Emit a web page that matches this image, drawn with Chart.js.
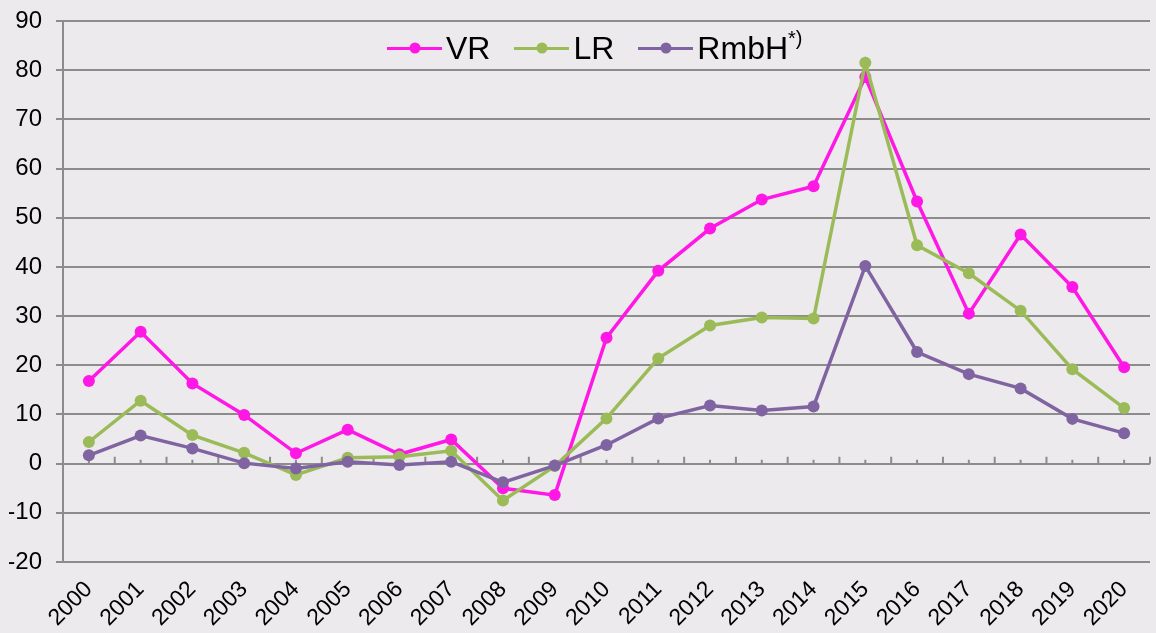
<!DOCTYPE html>
<html>
<head>
<meta charset="utf-8">
<script src="https://cdn.jsdelivr.net/npm/chart.js@4"></script>
<style>
  html, body { margin: 0; padding: 0; background: #ECEAEC; }
  #wrap { position: relative; width: 1156px; height: 633px; }
  #legend {
    position: absolute; top: 32px; left: 387px;
    display: flex; align-items: center;
    font-family: 'Liberation Sans', Arial, sans-serif;
    font-size: 32px; line-height: 32px; color: #000;
  }
  .item { display: flex; align-items: center; margin-right: 24px; }
  .sym { position: relative; width: 55px; height: 3px; margin-right: 4px; }
  .sym i {
    position: absolute; left: 50%; top: 50%; width: 11px; height: 11px;
    border-radius: 50%; transform: translate(-50%, -50%); background: inherit;
  }
  .sup { font-size: 20px; line-height: 0; position: relative; top: -14px; }
</style>
</head>
<body>
<div id="wrap">
  <canvas id="chart" width="1156" height="633"></canvas>
  <div id="legend"></div>
</div>
<script>
/* ================= DATA ================= */
const years = ['2000','2001','2002','2003','2004','2005','2006','2007','2008','2009','2010',
               '2011','2012','2013','2014','2015','2016','2017','2018','2019','2020'];
const vr   = [16.8, 26.8, 16.3, 9.9, 2.1, 6.9, 1.9, 4.9, -5.0, -6.4, 25.6,
              39.2, 47.8, 53.7, 56.4, 78.6, 53.3, 30.5, 46.6, 35.9, 19.6];
const lr   = [4.4, 12.8, 5.8, 2.2, -2.3, 1.2, 1.4, 2.6, -7.5, -0.5, 9.2,
              21.4, 28.1, 29.7, 29.5, 81.5, 44.4, 38.7, 31.1, 19.2, 11.3];
const rmbh = [1.7, 5.7, 3.1, 0.1, -1.0, 0.4, -0.3, 0.4, -3.8, -0.4, 3.8,
              9.2, 11.8, 10.8, 11.6, 40.2, 22.7, 18.2, 15.3, 9.1, 6.2];
const seriesNames  = ['VR', 'LR', 'RmbH'];
const seriesColors = ['#FF17E6', '#9BBB59', '#8064A2'];
const yMin = -20, yMax = 90, yStep = 10;

const FONT = "'Liberation Sans', Arial, sans-serif";
const GRID = '#8C8C8C';

/* ================= LEGEND (HTML) ================= */
const legendEl = document.getElementById('legend');
seriesNames.forEach((name, i) => {
  const item = document.createElement('div');
  item.className = 'item';
  const sym = document.createElement('div');
  sym.className = 'sym';
  sym.style.background = seriesColors[i];
  sym.appendChild(document.createElement('i'));
  const txt = document.createElement('span');
  txt.textContent = name;
  if (name === 'RmbH') {
    const sup = document.createElement('span');
    sup.className = 'sup';
    sup.textContent = '*)';
    txt.appendChild(sup);
  }
  item.appendChild(sym);
  item.appendChild(txt);
  legendEl.appendChild(item);
});

/* ================= ZERO LINE TICK MARKS ================= */
const zeroTicks = {
  id: 'zeroTicks',
  beforeDatasetsDraw(chart) {
    const { ctx, scales: { x, y } } = chart;
    const y0 = y.getPixelForValue(0);
    const step = (x.right - x.left) / years.length;
    ctx.save();
    ctx.strokeStyle = GRID;
    ctx.lineWidth = 2;
    ctx.beginPath();
    for (let i = 0; i <= years.length; i++) {
      const bx = x.left + i * step;
      ctx.moveTo(bx, y0);
      ctx.lineTo(bx, y0 - 7);
    }
    years.forEach((_, i) => {
      const cx = x.getPixelForValue(i);
      ctx.moveTo(cx, y0);
      ctx.lineTo(cx, y0 - 4);
    });
    ctx.stroke();
    ctx.restore();
  }
};

const mkSet = (label, data, color, order) => ({
  label, data, order,
  borderColor: color,
  backgroundColor: color,
  borderWidth: 3.5,
  pointRadius: 6,
  pointBackgroundColor: color,
  pointBorderWidth: 0,
  tension: 0,
  fill: false
});

/* ================= CHART ================= */
new Chart(document.getElementById('chart'), {
  type: 'line',
  data: {
    labels: years,
    datasets: [
      mkSet(seriesNames[0], vr, seriesColors[0], 3),
      mkSet(seriesNames[1], lr, seriesColors[1], 2),
      mkSet(seriesNames[2], rmbh, seriesColors[2], 1)
    ]
  },
  options: {
    responsive: false,
    animation: false,
    layout: { padding: { top: 0, right: 3, left: 9, bottom: 0 } },
    plugins: {
      legend: { display: false },
      tooltip: { enabled: false }
    },
    scales: {
      x: {
        offset: true,
        grid: { display: false },
        border: { display: false },
        afterFit: s => { s.height = 71; },
        ticks: {
          color: '#000',
          font: { family: FONT, size: 23 },
          minRotation: 45,
          maxRotation: 45,
          padding: 6,
          autoSkip: false
        }
      },
      y: {
        min: yMin,
        max: yMax,
        afterFit: s => { s.width = 54; s.paddingTop = 21; },
        grid: { color: GRID, lineWidth: 2, tickLength: 7 },
        border: { display: true, color: GRID, width: 2 },
        ticks: {
          stepSize: yStep,
          color: '#000',
          font: { family: FONT, size: 24 },
          padding: 14
        }
      }
    }
  },
  plugins: [zeroTicks]
});
</script>
</body>
</html>
